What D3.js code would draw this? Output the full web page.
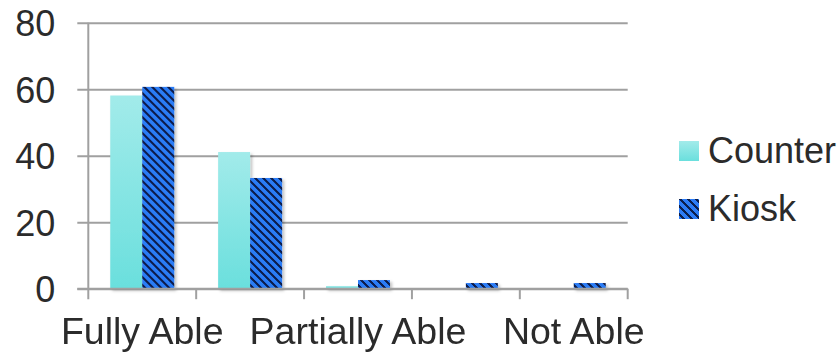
<!DOCTYPE html>
<html>
<head>
<meta charset="utf-8">
<script src="https://cdn.jsdelivr.net/npm/d3@7/dist/d3.min.js"></script>
<style>
  html, body { margin: 0; padding: 0; background: #fff; }
  svg { display: block; }
  text { font-family: "Liberation Sans", Arial, sans-serif; fill: #2b2b2b; }
</style>
</head>
<body>
<svg id="chart" width="839" height="352"></svg>
<script>
// Response categories (every other label is shown on the axis)
const categories = ["Fully Able", "Mostly Able", "Partially Able", "Hardly Able", "Not Able"];
const shownLabels = ["Fully Able", "", "Partially Able", "", "Not Able"];
const seriesNames = ["Counter", "Kiosk"];
const counterValues = [58.1, 41.1, 0.8, 0, 0];
const kioskValues = [60.7, 33.3, 2.6, 1.7, 1.7];
const yTicks = [0, 20, 40, 60, 80];

const svg = d3.select("#chart");
const plot = { left: 88.3, right: 627.7, top: 22.7, bottom: 288.7 };

const y = d3.scaleLinear().domain([0, 80]).range([plot.bottom, plot.top]);
const x0 = d3.scaleBand().domain(categories).range([plot.left, plot.right]).padding(0);
const x1 = d3.scaleBand().domain(seriesNames).range([0, x0.bandwidth()])
  .paddingInner(0).paddingOuter(0.686);

const defs = svg.append("defs");

// Light aqua vertical gradient for Counter bars
const grad = defs.append("linearGradient").attr("id", "counterGrad")
  .attr("x1", 0).attr("y1", 0).attr("x2", 0).attr("y2", 1);
grad.append("stop").attr("offset", "0%").attr("stop-color", "#a2ebea");
grad.append("stop").attr("offset", "100%").attr("stop-color", "#6adfdd");

// Wide downward diagonal pattern for Kiosk bars
const pat = defs.append("pattern").attr("id", "kioskPat")
  .attr("patternUnits", "userSpaceOnUse").attr("width", 8).attr("height", 8);
pat.append("rect").attr("width", 8).attr("height", 8).attr("fill", "#2c7cf6");
for (let row = 0; row < 8; row++) {
  for (let k = 0; k < 3; k++) {
    pat.append("rect").attr("x", (row + k) % 8).attr("y", row)
      .attr("width", 1).attr("height", 1).attr("fill", "#0b1f4e");
  }
}

// Soft shadow under the bars
const shadow = defs.append("filter").attr("id", "barShadow")
  .attr("x", "-20%").attr("y", "-20%").attr("width", "150%").attr("height", "150%");
shadow.append("feDropShadow").attr("dx", 2).attr("dy", 2)
  .attr("stdDeviation", 1.8).attr("flood-color", "#000").attr("flood-opacity", 0.25);

const gridColor = "#a0a0a0";

// Horizontal gridlines with outward ticks, and y labels
const yAxis = d3.axisLeft(y).tickValues(yTicks)
  .tickSize(plot.right - plot.left + 11).tickPadding(22).tickFormat(d3.format("d"));
const gy = svg.append("g").attr("transform", `translate(${plot.right},0)`).call(yAxis);
gy.select(".domain").remove();
gy.selectAll(".tick line").attr("stroke", gridColor).attr("stroke-width", 2);
gy.selectAll(".tick text").attr("font-size", 36).attr("fill", "#2b2b2b")
  .attr("dy", "0.36em");

// Vertical axis line
svg.append("line")
  .attr("x1", plot.left).attr("x2", plot.left)
  .attr("y1", y(80)).attr("y2", plot.bottom + 10.5)
  .attr("stroke", gridColor).attr("stroke-width", 2);

// Category boundary ticks
const boundaries = categories.map(c => x0(c)).concat([plot.right]);
svg.append("g").selectAll("line").data(boundaries.slice(1)).join("line")
  .attr("x1", d => d).attr("x2", d => d)
  .attr("y1", plot.bottom).attr("y2", plot.bottom + 10.5)
  .attr("stroke", gridColor).attr("stroke-width", 2);

// Bars
const data = categories.map((c, i) => ({ cat: c, vals: [counterValues[i], kioskValues[i]] }));
const fills = ["url(#counterGrad)", "url(#kioskPat)"];
const groups = svg.append("g").attr("filter", "url(#barShadow)")
  .selectAll("g").data(data).join("g")
  .attr("transform", d => `translate(${x0(d.cat)},0)`);
groups.selectAll("rect")
  .data(d => d.vals.map((v, j) => ({ s: seriesNames[j], v, j })).filter(e => e.v > 0))
  .join("rect")
  .attr("x", e => x1(e.s))
  .attr("y", e => y(e.v))
  .attr("width", x1.bandwidth())
  .attr("height", e => y(0) - y(e.v))
  .attr("fill", e => fills[e.j]);

// Redraw the baseline on top of the bars
svg.append("line")
  .attr("x1", plot.left - 11).attr("x2", plot.right)
  .attr("y1", plot.bottom).attr("y2", plot.bottom)
  .attr("stroke", gridColor).attr("stroke-width", 2);

// Category labels
svg.append("g").selectAll("text").data(categories).join("text")
  .attr("x", c => x0(c) + x0.bandwidth() / 2)
  .attr("y", 344)
  .attr("text-anchor", "middle")
  .attr("font-size", 37.5)
  .text((c, i) => shownLabels[i]);

// Legend
const legend = svg.append("g").selectAll("g").data(seriesNames).join("g")
  .attr("transform", (d, i) => `translate(679,${141 + i * 58})`);
legend.append("rect").attr("width", 20).attr("height", 20)
  .attr("fill", (d, i) => fills[i]);
legend.append("text").attr("x", 29).attr("y", 22).attr("font-size", 36).text(d => d);
</script>
</body>
</html>
